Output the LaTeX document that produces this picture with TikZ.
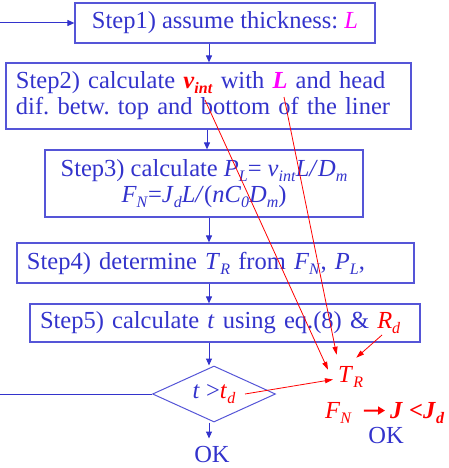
\documentclass[tikz,border=0pt]{standalone}
\usepackage{fontspec}
\setmainfont{Liberation Serif}
\usetikzlibrary{shapes.geometric,arrows.meta}
\definecolor{bl}{RGB}{51,51,204}
\definecolor{bb}{RGB}{85,85,215}
\definecolor{mg}{RGB}{255,0,255}
\definecolor{rd}{RGB}{255,0,0}
\frenchspacing
\newcommand\subf[1]{\raisebox{-5pt}{\fontsize{16}{16}\selectfont #1}}
\newcommand\isub[2]{\textit{#1}\subf{\textit{#2}}}
\newcommand\bsub[2]{\textbf{\textit{#1}}\subf{\textbf{\textit{#2}}}}
\newcommand\bigf{\fontsize{24.5}{26}\selectfont}
\tikzset{
  box/.style={draw=bb, line width=1.2pt, text=bl, inner sep=0pt, font=\bigf},
  lbox/.style={box, align=left, inner xsep=10pt},
  barrow/.style={draw=bl, line width=1pt, -{Triangle[length=7pt,width=6pt]}},
  bline/.style={draw=bl, line width=1pt},
  rarrow/.style={draw=rd, line width=0.8pt, -{Triangle[length=8pt,width=5pt]}},
  rtext/.style={text=rd, inner sep=0pt, font=\bigf},
  btext/.style={text=bl, inner sep=0pt, font=\bigf}
}
\begin{document}
\begin{tikzpicture}[x=1pt,y=-1pt]
\useasboundingbox (0,0) rectangle (448,468);
\coordinate (in1) at (0,23);
\coordinate (ax) at (209,0);
\coordinate (ax2) at (207,0);
\node[box, minimum width=300pt, minimum height=40pt] (s1) at (225,23)
  {Step1) assume thickness: \textcolor{mg}{\textit{L}}};
\node[lbox, text width=385pt, minimum height=66pt] (s2) at (208.5,96)
  {Step2) calculate \textcolor{rd}{\bsub{v}{int}} with \textcolor{mg}{\textbf{\textit{L}}} and head\\
   dif. betw. top and bottom of the liner};
\node[box, align=center, minimum width=318pt, minimum height=67pt] (s3) at (204,183.5)
  {Step3) calculate \isub{P}{L}= \isub{v}{int}\textit{L/}\isub{D}{m}\\
   \isub{F}{N}=\isub{J}{d}\textit{L/}(\textit{n}\isub{C}{0}\isub{D}{m})};
\node[lbox, text width=377pt, minimum height=40pt] (s4) at (215.5,263)
  {Step4) determine \isub{T}{R} from \isub{F}{N}, \isub{P}{L},};
\node[lbox, text width=370pt, minimum height=38pt] (s5) at (225,323)
  {Step5) calculate \textit{t} using eq.(8) \& \textcolor{rd}{\isub{R}{d}}};
\node[draw=bb, line width=1pt, diamond, aspect=2.2, minimum width=123pt, minimum height=56pt,
  inner sep=0pt, text=bl, font=\bigf] (dec) at (214,394)
  {\textit{t} >\textcolor{rd}{\isub{t}{d}}};
\node[btext, anchor=base] (ok1) at (212,462) {OK};
\node[rtext, anchor=base west] (TR) at (338,382) {\isub{T}{R}};
\node[rtext, anchor=base west] (FN) at (325,418) {\isub{F}{N}};
\node[rtext, anchor=base west] (JJ) at (390,418) {\textbf{\textit{J} <}\bsub{J}{d}};
\node[btext, anchor=base] (ok2) at (386,443) {OK};
\coordinate (vint) at (205,100);
\coordinate (Lsrc) at (284,97);
\coordinate (Rd) at (382,335);
\coordinate (td) at (245,394);
% blue connectors
\draw[barrow] (in1) -- (s1.west);
\draw[barrow] (s1.south -| ax) -- (s2.north -| ax);
\draw[barrow] (s2.south -| ax2) -- (s3.north -| ax2);
\draw[barrow] (s3.south -| ax) -- (s4.north -| ax);
\draw[barrow] (s4.south -| ax) -- (s5.north -| ax);
\draw[barrow] (s5.south -| ax) -- (dec.north -| ax);
\draw[barrow] (dec.south -| ax) -- ++(0,16);
\draw[bline] (dec.west -| in1) -- (dec.west);
% red connectors
\draw[rarrow] (vint) -- ([xshift=-10pt,yshift=-4pt]TR.north west);
\draw[rarrow] (Lsrc) -- ([xshift=-14pt,yshift=11pt]TR.north);
\draw[rarrow] (Rd) -- ([xshift=-7pt,yshift=8pt]TR.north east);
\draw[rarrow] (td) -- ([xshift=-5pt,yshift=-3pt]TR.west);
\draw[draw=rd, line width=2pt, -{Triangle[length=7pt,width=8pt]}, shorten <=12pt, shorten >=5pt]
  ([yshift=2pt]FN.east) -- ([yshift=2pt]JJ.west);
\end{tikzpicture}
\end{document}
